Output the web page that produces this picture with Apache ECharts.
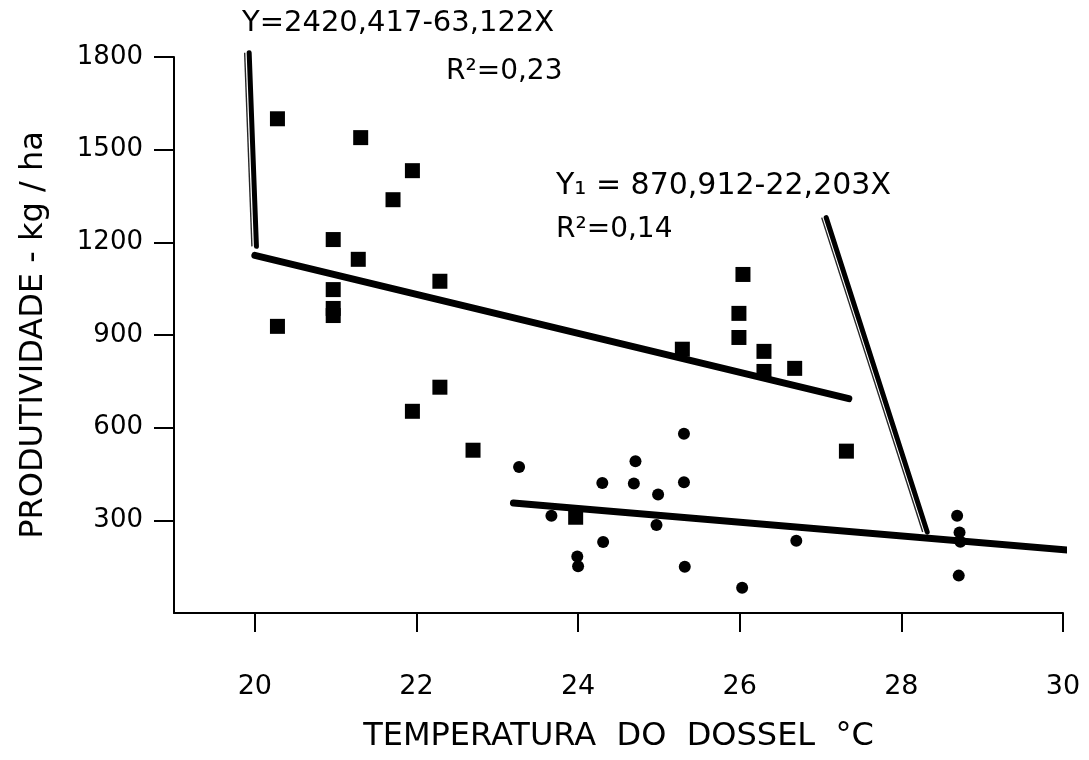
<!DOCTYPE html>
<html>
<head>
<meta charset="utf-8">
<script src="https://cdn.jsdelivr.net/npm/echarts@6/dist/echarts.min.js"></script>
<style>
  html, body { margin: 0; padding: 0; background: #fff; }
  #chart { width: 1089px; height: 760px; }
</style>
</head>
<body>
<div id="chart"></div>
<script>
// Canopy temperature (°C) vs. yield (kg/ha), two groups of plots
const squareX = [20.28, 21.31, 21.95, 21.71, 20.97, 21.28, 22.29, 20.97, 20.97, 20.97,
                 20.28, 21.95, 22.29, 22.70, 25.29, 26.04, 25.99, 25.99, 26.30, 26.30,
                 26.68, 27.32, 23.97];
const squareY = [1600, 1539, 1432, 1338, 1209, 1145, 1074, 1047, 986, 963,
                 928, 653, 731, 527, 854, 1096, 970, 892, 847, 782,
                 792, 524, 310];

const circleX = [23.27, 23.67, 24.30, 24.71, 24.69, 24.99, 25.31, 25.31, 24.97, 24.31,
                 23.99, 24.00, 25.32, 26.03, 26.70, 28.69, 28.72, 28.73, 28.71, 30.02];
const circleY = [473, 315, 421, 491, 419, 384, 580, 423, 285, 230,
                 183, 151, 150, 82, 234, 315, 261, 231, 121, 126];

// Fitted lines: Y = intercept + slope * X, drawn over the stated X span
const fitSquares = [2420.417, -63.122];
const fitSquaresSpan = [20.0, 27.35];
const fitCircles = [870.912, -22.203];
const fitCirclesSpan = [23.2, 30.12];

// Pointer strokes tying each equation to its line (data coordinates)
const pointerA = [[19.93, 1814], [20.02, 1187]];
const pointerB = [[27.07, 1280], [28.32, 262]];

const xTicks = [20, 22, 24, 26, 28, 30];
const yTicks = [300, 600, 900, 1200, 1500, 1800];

const eqSquares = 'Y=2420,417-63,122X';
const r2Squares = 'R²=0,23';
const eqCircles = 'Y₁ = 870,912-22,203X';
const r2Circles = 'R²=0,14';

const FONT = '"DejaVu Sans", "Noto Sans", sans-serif';

function pairs(xs, ys) { return xs.map((x, i) => [x, ys[i]]); }
function fitLine(coef, span) {
  return span.map(x => [x, coef[0] + coef[1] * x]);
}

const chart = echarts.init(document.getElementById('chart'), null, { renderer: 'canvas' });

const pointerThick = { color: '#000', width: 5, cap: 'round' };
const pointerThin = {
  color: '#000', width: 1.4,
  shadowColor: 'rgba(0,0,0,0.85)', shadowBlur: 0.6, shadowOffsetX: -4.5, shadowOffsetY: 0
};

chart.setOption({
  animation: false,
  backgroundColor: '#fff',
  textStyle: { fontFamily: FONT },
  grid: { left: 174, right: 26, top: 57, bottom: 147, containLabel: false },
  xAxis: {
    type: 'value', min: 19, max: 30,
    name: 'TEMPERATURA  DO  DOSSEL  °C',
    nameLocation: 'middle', nameGap: 108,
    nameTextStyle: { fontSize: 32, color: '#000', fontFamily: FONT },
    axisLine: { show: true, lineStyle: { color: '#000', width: 2 } },
    axisTick: { show: true, inside: false, length: 19, customValues: xTicks,
                lineStyle: { color: '#000', width: 2 } },
    axisLabel: { show: true, customValues: xTicks, margin: 60, fontSize: 27,
                 color: '#000', fontFamily: FONT, formatter: v => String(v) },
    splitLine: { show: false }
  },
  yAxis: {
    type: 'value', min: 0, max: 1800,
    name: 'PRODUTIVIDADE - kg / ha',
    nameLocation: 'middle', nameGap: 124, nameRotate: 90,
    nameTextStyle: { fontSize: 32, color: '#000', fontFamily: FONT },
    axisLine: { show: true, lineStyle: { color: '#000', width: 2 } },
    axisTick: { show: true, inside: false, length: 20, customValues: yTicks,
                lineStyle: { color: '#000', width: 2 } },
    axisLabel: { show: true, customValues: yTicks, margin: 31, fontSize: 26,
                 color: '#000', fontFamily: FONT, formatter: v => String(v) },
    splitLine: { show: false }
  },
  series: [
    {
      type: 'line', data: fitLine(fitSquares, fitSquaresSpan),
      symbol: 'none', lineStyle: { color: '#000', width: 7, cap: 'round' }, z: 3
    },
    {
      type: 'line', data: fitLine(fitCircles, fitCirclesSpan),
      symbol: 'none', lineStyle: { color: '#000', width: 7, cap: 'round' }, z: 3
    },
    { type: 'line', data: pointerA, symbol: 'none', clip: false, lineStyle: pointerThin, z: 2 },
    { type: 'line', data: pointerA, symbol: 'none', clip: false, lineStyle: pointerThick, z: 4 },
    { type: 'line', data: pointerB, symbol: 'none', clip: false, lineStyle: pointerThin, z: 2 },
    { type: 'line', data: pointerB, symbol: 'none', clip: false, lineStyle: pointerThick, z: 4 },
    {
      type: 'scatter', data: pairs(squareX, squareY),
      symbol: 'rect', symbolSize: 15, itemStyle: { color: '#000', opacity: 1 }, z: 5
    },
    {
      type: 'scatter', data: pairs(circleX, circleY),
      symbol: 'circle', symbolSize: 12, itemStyle: { color: '#000', opacity: 1 }, z: 5
    }
  ],
  graphic: [
    { type: 'text', left: 242, top: 9,
      style: { text: eqSquares, font: '29px ' + FONT, fill: '#000' } },
    { type: 'text', left: 446, top: 58,
      style: { text: r2Squares, font: '28px ' + FONT, fill: '#000' } },
    { type: 'text', left: 556, top: 171,
      style: { text: eqCircles, font: '30px ' + FONT, fill: '#000' } },
    { type: 'text', left: 556, top: 216,
      style: { text: r2Circles, font: '28px ' + FONT, fill: '#000' } }
  ]
});
</script>
</body>
</html>
